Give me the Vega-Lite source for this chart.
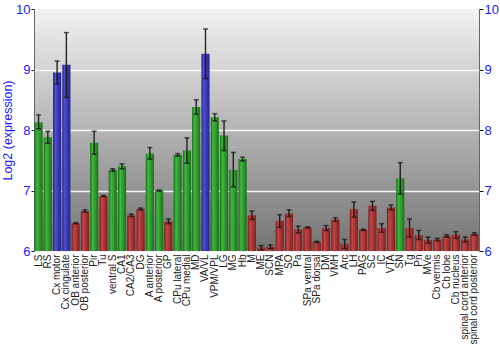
{
  "$schema": "https://vega.github.io/schema/vega-lite/v6.json",
  "autosize": "none",
  "width": 445,
  "height": 242,
  "padding": {"left": 34, "top": 9, "right": 21, "bottom": 99},
  "background": "white",
  "config": {
    "font": "Liberation Sans",
    "view": {
      "stroke": "#666666",
      "strokeWidth": 1,
      "fill": {"gradient": "linear", "x1": 0, "y1": 0, "x2": 0, "y2": 1, "stops": [{"offset": 0, "color": "#f2f2f2"}, {"offset": 1, "color": "#747474"}]}
    }
  },
  "data": {"values": [
    {"region": "LS", "g": "g", "v": 8.13, "lo": 8.02, "hi": 8.25},
    {"region": "RS", "g": "g", "v": 7.88, "lo": 7.78, "hi": 7.98},
    {"region": "Cx motor", "g": "b", "v": 8.95, "lo": 8.76, "hi": 9.14},
    {"region": "Cx cingulate", "g": "b", "v": 9.08, "lo": 8.54, "hi": 9.61},
    {"region": "OB anterior", "g": "r", "v": 6.46, "lo": 6.45, "hi": 6.47},
    {"region": "OB posterior", "g": "r", "v": 6.66, "lo": 6.64, "hi": 6.68},
    {"region": "Pir", "g": "g", "v": 7.79, "lo": 7.6, "hi": 7.98},
    {"region": "Tu", "g": "r", "v": 6.91, "lo": 6.9, "hi": 6.92},
    {"region": "ventral S", "g": "g", "v": 7.34, "lo": 7.32, "hi": 7.36},
    {"region": "CA1", "g": "g", "v": 7.4, "lo": 7.36, "hi": 7.44},
    {"region": "CA2/CA3", "g": "r", "v": 6.59, "lo": 6.57, "hi": 6.61},
    {"region": "DG", "g": "r", "v": 6.7, "lo": 6.68, "hi": 6.71},
    {"region": "A anterior", "g": "g", "v": 7.61, "lo": 7.52, "hi": 7.71},
    {"region": "A posterior", "g": "g", "v": 7.0, "lo": 6.99, "hi": 7.01},
    {"region": "GP", "g": "r", "v": 6.49, "lo": 6.45, "hi": 6.53},
    {"region": "CPu lateral", "g": "g", "v": 7.59, "lo": 7.57, "hi": 7.61},
    {"region": "CPu medial", "g": "g", "v": 7.66, "lo": 7.45, "hi": 7.87},
    {"region": "MD", "g": "g", "v": 8.38, "lo": 8.26, "hi": 8.5},
    {"region": "VA/VL", "g": "b", "v": 9.26, "lo": 8.85, "hi": 9.67},
    {"region": "VPM/VPL", "g": "g", "v": 8.21, "lo": 8.15, "hi": 8.27},
    {"region": "LG", "g": "g", "v": 7.91, "lo": 7.66, "hi": 8.15},
    {"region": "MG", "g": "g", "v": 7.34, "lo": 7.06, "hi": 7.63},
    {"region": "Hb", "g": "g", "v": 7.52, "lo": 7.49, "hi": 7.55},
    {"region": "M", "g": "r", "v": 6.59, "lo": 6.52, "hi": 6.66},
    {"region": "ME", "g": "r", "v": 6.06, "lo": 6.02, "hi": 6.09},
    {"region": "SCN", "g": "r", "v": 6.07, "lo": 6.04, "hi": 6.1},
    {"region": "MPA", "g": "r", "v": 6.5, "lo": 6.39, "hi": 6.6},
    {"region": "SO", "g": "r", "v": 6.62, "lo": 6.57, "hi": 6.68},
    {"region": "Pa", "g": "r", "v": 6.36, "lo": 6.3, "hi": 6.41},
    {"region": "SPa ventral", "g": "r", "v": 6.39, "lo": 6.38, "hi": 6.4},
    {"region": "SPa dorsal", "g": "r", "v": 6.15, "lo": 6.14, "hi": 6.16},
    {"region": "DM", "g": "r", "v": 6.38, "lo": 6.34, "hi": 6.42},
    {"region": "VMH", "g": "r", "v": 6.52, "lo": 6.49, "hi": 6.55},
    {"region": "Arc", "g": "r", "v": 6.12, "lo": 6.04, "hi": 6.19},
    {"region": "LH", "g": "r", "v": 6.69, "lo": 6.56, "hi": 6.81},
    {"region": "PAG", "g": "r", "v": 6.35, "lo": 6.34, "hi": 6.36},
    {"region": "SC", "g": "r", "v": 6.75, "lo": 6.67, "hi": 6.82},
    {"region": "IC", "g": "r", "v": 6.38, "lo": 6.31, "hi": 6.45},
    {"region": "VTA", "g": "r", "v": 6.72, "lo": 6.68, "hi": 6.76},
    {"region": "SN", "g": "g", "v": 7.2, "lo": 6.94, "hi": 7.46},
    {"region": "Tg", "g": "r", "v": 6.38, "lo": 6.23, "hi": 6.53},
    {"region": "Pn", "g": "r", "v": 6.26, "lo": 6.19, "hi": 6.34},
    {"region": "MVe", "g": "r", "v": 6.18, "lo": 6.13, "hi": 6.23},
    {"region": "Cb vermis", "g": "r", "v": 6.19, "lo": 6.17, "hi": 6.21},
    {"region": "Cb lobe", "g": "r", "v": 6.25, "lo": 6.23, "hi": 6.27},
    {"region": "Cb nucleus", "g": "r", "v": 6.27, "lo": 6.21, "hi": 6.32},
    {"region": "spinal cord anterior", "g": "r", "v": 6.19, "lo": 6.15, "hi": 6.23},
    {"region": "spinal cord posterior", "g": "r", "v": 6.28, "lo": 6.26, "hi": 6.3}
  ]},
  "encoding": {
    "x": {
      "field": "region", "type": "nominal", "sort": null,
      "scale": {"paddingInner": 0.12, "paddingOuter": 0.05, "domain": ["LS", "RS", "Cx motor", "Cx cingulate", "OB anterior", "OB posterior", "Pir", "Tu", "ventral S", "CA1", "CA2/CA3", "DG", "A anterior", "A posterior", "GP", "CPu lateral", "CPu medial", "MD", "VA/VL", "VPM/VPL", "LG", "MG", "Hb", "M", "ME", "SCN", "MPA", "SO", "Pa", "SPa ventral", "SPa dorsal", "DM", "VMH", "Arc", "LH", "PAG", "SC", "IC", "VTA", "SN", "Tg", "Pn", "MVe", "Cb vermis", "Cb lobe", "Cb nucleus", "spinal cord anterior", "spinal cord posterior"]},
      "axis": {"title": null, "labelAngle": -90, "labelAlign": "right", "labelBaseline": "middle", "ticks": false, "domain": false, "labelPadding": 3, "labelFontSize": 10, "labelColor": "#222222", "labelFont": "Liberation Sans"}
    }
  },
  "resolve": {"scale": {"y": "independent"}},
  "layer": [
    {
      "transform": [{"filter": "datum.g == 'g'"}],
      "mark": {"type": "bar", "fill": {"gradient": "linear", "x1": 0, "y1": 0, "x2": 1, "y2": 0, "stops": [{"offset": 0, "color": "#1a6b1a"}, {"offset": 0.3, "color": "#3fb83f"}, {"offset": 0.6, "color": "#2f9c2f"}, {"offset": 1, "color": "#1c6e1c"}]}},
      "encoding": {
        "y": {"field": "v", "type": "quantitative", "scale": {"domain": [6, 10], "zero": false, "nice": false},
          "axis": {"orient": "left", "title": "Log2 (expression)", "titleColor": "#1a1aff", "titleFont": "Liberation Sans", "titleFontSize": 12.5, "titleFontWeight": "normal", "titlePadding": 1,
            "values": [6, 7, 8, 9, 10], "labelColor": "#1a1aff", "labelFontSize": 13, "labelPadding": 1, "tickSize": 3, "tickColor": "#222222", "domain": false,
            "grid": true, "gridColor": "#ffffff", "gridWidth": 1.5, "gridOpacity": 0.9}},
        "y2": {"datum": 6}
      }
    },
    {
      "transform": [{"filter": "datum.g == 'r'"}],
      "mark": {"type": "bar", "fill": {"gradient": "linear", "x1": 0, "y1": 0, "x2": 1, "y2": 0, "stops": [{"offset": 0, "color": "#7a1c1c"}, {"offset": 0.3, "color": "#c24747"}, {"offset": 0.6, "color": "#a83535"}, {"offset": 1, "color": "#801e1e"}]}},
      "encoding": {
        "y": {"field": "v", "type": "quantitative", "scale": {"domain": [6, 10], "zero": false, "nice": false}, "axis": null},
        "y2": {"datum": 6}
      }
    },
    {
      "transform": [{"filter": "datum.g == 'b'"}],
      "mark": {"type": "bar", "fill": {"gradient": "linear", "x1": 0, "y1": 0, "x2": 1, "y2": 0, "stops": [{"offset": 0, "color": "#22228a"}, {"offset": 0.3, "color": "#5050d0"}, {"offset": 0.6, "color": "#3a3ab5"}, {"offset": 1, "color": "#25258c"}]}},
      "encoding": {
        "y": {"field": "v", "type": "quantitative", "scale": {"domain": [6, 10], "zero": false, "nice": false}, "axis": null},
        "y2": {"datum": 6}
      }
    },
    {
      "mark": {"type": "rule", "color": "#111111", "strokeWidth": 1.4, "opacity": 0.9},
      "encoding": {
        "y": {"field": "lo", "type": "quantitative", "scale": {"domain": [6, 10], "zero": false, "nice": false},
          "axis": {"orient": "right", "title": null, "values": [6, 7, 8, 9, 10], "labelColor": "#1a1aff", "labelFontSize": 13, "labelPadding": 1, "tickSize": 4, "tickColor": "#111111", "domain": false, "grid": false}},
        "y2": {"field": "hi"}
      }
    },
    {
      "mark": {"type": "tick", "color": "#111111", "size": 5, "thickness": 1.5, "orient": "horizontal"},
      "encoding": {
        "y": {"field": "lo", "type": "quantitative", "scale": {"domain": [6, 10], "zero": false, "nice": false}, "axis": null}
      }
    },
    {
      "mark": {"type": "tick", "color": "#111111", "size": 5, "thickness": 1.5, "orient": "horizontal"},
      "encoding": {
        "y": {"field": "hi", "type": "quantitative", "scale": {"domain": [6, 10], "zero": false, "nice": false}, "axis": null}
      }
    }
  ]
}
